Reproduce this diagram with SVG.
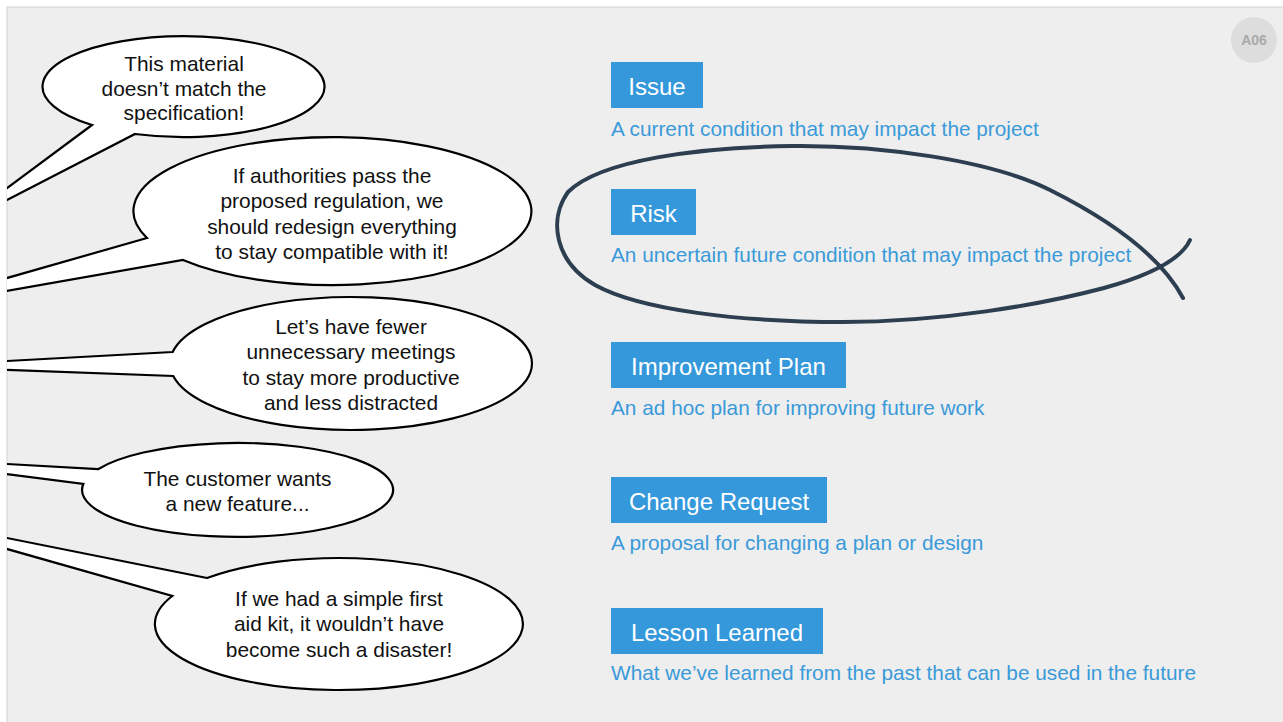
<svg xmlns="http://www.w3.org/2000/svg" width="1283" height="722" viewBox="0 0 1283 722">
<style>
.bub{fill:#ffffff;stroke:#000000;stroke-width:2.2;stroke-linejoin:miter}
.bt{font-family:"Liberation Sans",Arial,sans-serif;font-size:20.9px;fill:#111111;text-anchor:middle}
.box{fill:#3498db}
.bl{font-family:"Liberation Sans",Arial,sans-serif;font-size:24px;fill:#ffffff;text-anchor:middle}
.desc{font-family:"Liberation Sans",Arial,sans-serif;font-size:20.8px;fill:#3a9ad9}
</style>
<defs>
<clipPath id="slide"><rect x="7" y="7" width="1276" height="715"/></clipPath>
</defs>
<rect x="0" y="0" width="1283" height="722" fill="#ffffff"/>
<rect x="7" y="7" width="1280" height="720" fill="#eeeeee" stroke="#d2d2d2" stroke-width="1"/>

<g id="badge">
<circle cx="1254" cy="40" r="23" fill="#dddddd"/>
<text x="1254" y="45" font-family="'Liberation Sans',Arial,sans-serif" font-size="14" font-weight="bold" fill="#a9a9a9" text-anchor="middle">A06</text>
</g>

<g clip-path="url(#slide)">
<g id="bubble1">
<path class="bub" d="M92,125 L0,193.2 L0,203.6 L135,134 A141 50.5 0 1 0 92,125 Z"/>
<text class="bt"><tspan x="184" y="71">This material</tspan><tspan x="184" y="95.5">doesn’t match the</tspan><tspan x="184" y="120">specification!</tspan></text>
</g>
<g id="bubble2">
<path class="bub" d="M147,238 L0,280 L0,292.2 L183,260 A199 74 0 1 0 147,238 Z"/>
<text class="bt"><tspan x="332" y="182.5">If authorities pass the</tspan><tspan x="332" y="208">proposed regulation, we</tspan><tspan x="332" y="233.5">should redesign everything</tspan><tspan x="332" y="259">to stay compatible with it!</tspan></text>
</g>
<g id="bubble3">
<path class="bub" d="M172.7,352 L0,361.4 L0,369.7 L173.2,376 A181 66.5 0 1 0 172.7,352 Z"/>
<text class="bt"><tspan x="351" y="333.5">Let’s have fewer</tspan><tspan x="351" y="359">unnecessary meetings</tspan><tspan x="351" y="384.5">to stay more productive</tspan><tspan x="351" y="410">and less distracted</tspan></text>
</g>
<g id="bubble4">
<path class="bub" d="M98,469.2 L0,463.6 L0,473.1 L83.3,484 A155.5 47 0 1 0 98,469.2 Z"/>
<text class="bt"><tspan x="237.5" y="486">The customer wants</tspan><tspan x="237.5" y="511">a new feature...</tspan></text>
</g>
<g id="bubble5">
<path class="bub" d="M207,578 L0,536.6 L0,547 L172.3,596 A184 66 0 1 0 207,578 Z"/>
<text class="bt"><tspan x="339" y="605.5">If we had a simple first</tspan><tspan x="339" y="631">aid kit, it wouldn’t have</tspan><tspan x="339" y="656.5">become such a disaster!</tspan></text>
</g>
</g>

<g id="issue">
<rect class="box" x="611" y="62" width="92" height="46"/>
<text class="bl" x="657" y="94.5">Issue</text>
<text class="desc" x="611" y="136">A current condition that may impact the project</text>
</g>
<g id="risk">
<rect class="box" x="611" y="189" width="85" height="46"/>
<text class="bl" x="653.5" y="221.5">Risk</text>
<text class="desc" x="611" y="262">An uncertain future condition that may impact the project</text>
</g>
<g id="improvement">
<rect class="box" x="611" y="342" width="235" height="46"/>
<text class="bl" x="728.5" y="374.5">Improvement Plan</text>
<text class="desc" x="611" y="415">An ad hoc plan for improving future work</text>
</g>
<g id="change">
<rect class="box" x="611" y="477" width="216" height="46"/>
<text class="bl" x="719" y="509.5">Change Request</text>
<text class="desc" x="611" y="550">A proposal for changing a plan or design</text>
</g>
<g id="lesson">
<rect class="box" x="611" y="608" width="212" height="46"/>
<text class="bl" x="717" y="640.5">Lesson Learned</text>
<text class="desc" x="611" y="680">What we’ve learned from the past that can be used in the future</text>
</g>

<g id="connectors">
<path d="M1190,240 C1180,262 1140,278 1104,288 C1040,305 940,322 843,322 C740,322 640,310 595,285 C555,262 548,220 568,192 C600,160 700,147 792,146 C880,145 990,160 1050,190 C1110,220 1160,255 1183,298" fill="none" stroke="#2c3e50" stroke-width="4" stroke-linecap="round"/>
</g>
</svg>
